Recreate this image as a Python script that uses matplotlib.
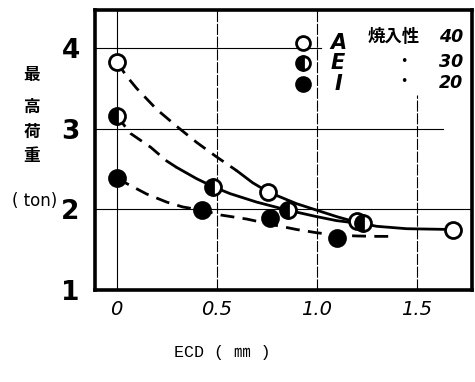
import matplotlib
matplotlib.use("Agg")
import matplotlib.pyplot as plt
from matplotlib.transforms import Affine2D

plt.rcParams['font.family'] = ['DejaVu Sans', 'Noto Sans CJK JP']

# ---- data ----
A_x = [0.0, 0.758, 1.20, 1.683]
A_y = [3.83, 2.215, 1.85, 1.75]
E_x = [0.0, 0.483, 0.855, 1.233]
E_y = [3.16, 2.28, 1.99, 1.83]
I_x = [0.0, 0.425, 0.767, 1.10]
I_y = [2.39, 1.99, 1.895, 1.65]

# guide curves
A_dash_x = [0.0, 0.05, 0.10, 0.20, 0.30, 0.40, 0.50, 0.60]
A_dash_y = [3.83, 3.65, 3.50, 3.24, 3.03, 2.83, 2.65, 2.48]
A_solid_x = [0.60, 0.68, 0.758, 0.90, 1.00, 1.10, 1.20, 1.30, 1.45, 1.683]
A_solid_y = [2.48, 2.33, 2.215, 2.07, 1.99, 1.91, 1.84, 1.79, 1.76, 1.75]
E_dash_x = [0.0, 0.07, 0.17, 0.25, 0.30]
E_dash_y = [3.16, 2.94, 2.77, 2.60, 2.52]
E_solid_x = [0.30, 0.40, 0.483, 0.567, 0.70, 0.855, 1.00, 1.10, 1.233]
E_solid_y = [2.52, 2.38, 2.28, 2.195, 2.09, 1.99, 1.91, 1.86, 1.82]
I_dash_x = [0.0, 0.05, 0.15, 0.25, 0.33, 0.425, 0.52, 0.65, 0.80, 0.90, 1.00, 1.10, 1.20, 1.30, 1.38]
I_dash_y = [2.39, 2.32, 2.19, 2.09, 2.03, 1.99, 1.93, 1.88, 1.80, 1.75, 1.71, 1.68, 1.67, 1.665, 1.665]

x_ticks = [0, 0.5, 1.0, 1.5]
x_tick_labels = ['0', '0.5', '1.0', '1.5']
y_ticks = [1, 2, 3, 4]
y_tick_labels = ['1', '2', '3', '4']

legend_letters = ['A', 'E', 'I']
legend_values = ['40', '30', '20']

W, H = 475, 382
fig = plt.figure(figsize=(W / 100, H / 100), dpi=100)
ax = fig.add_axes([95 / W, 1 - 290 / H, (472 - 95) / W, (290 - 10) / H])
ax.set_xlim(-0.1085, 1.777)
ax.set_ylim(1.0, 4.472)

for s in ax.spines.values():
    s.set_linewidth(2.6)
    s.set_color('black')

ax.set_xticks(x_ticks)
ax.set_xticklabels(x_tick_labels, fontstyle='italic', fontsize=14)
ax.set_yticks(y_ticks)
ax.set_yticklabels(y_tick_labels, fontsize=19, fontweight='bold')
ax.tick_params(axis='x', length=0, pad=7)
ax.tick_params(axis='y', length=0, pad=11)

# grid lines
gkw = dict(color='black', lw=0.8, zorder=1)
ax.axhline(2, **gkw)
ax.axhline(3, xmax=(1.63 + 0.1085) / 1.8855, **gkw)
ax.axhline(4, xmax=(1.02 + 0.1085) / 1.8855, **gkw)
ax.axvline(0, **gkw)
ax.axvline(0.5, ls=(0, (10, 1.5)), **gkw)
ax.axvline(1.0, ls=(0, (10, 1.5)), **gkw)
ax.axvline(1.5, ymax=(3.42 - 1) / 3.472, ls=(0, (10, 1.5)), **gkw)

# curves
lw = 2.0
dash = (0, (5, 3))
ax.plot(A_dash_x, A_dash_y, color='black', lw=lw, ls=dash, zorder=2)
ax.plot(A_solid_x, A_solid_y, color='black', lw=lw, zorder=2, solid_capstyle='round')
ax.plot(E_dash_x, E_dash_y, color='black', lw=lw, ls=dash, zorder=2)
ax.plot(E_solid_x, E_solid_y, color='black', lw=lw, zorder=2, solid_capstyle='round')
ax.plot(I_dash_x, I_dash_y, color='black', lw=lw, ls=dash, zorder=2)

# markers
ms = 11.5
mew = 2.0
ax.plot(A_x, A_y, 'o', ms=ms, mfc='white', mec='black', mew=mew, zorder=3)
ax.plot(E_x, E_y, 'o', ms=ms, mfc='black', mec='black', mew=mew,
        fillstyle='left', markerfacecoloralt='white', zorder=3)
ax.plot(I_x, I_y, 'o', ms=ms, mfc='black', mec='black', mew=mew, zorder=3)

# legend (manual, in pixel coords)
px = Affine2D().scale(1 / W, 1 / H) + Affine2D().scale(1, -1).translate(0, 1) + fig.transFigure
leg_y = [43, 63, 84]
lms = 10
styles = [dict(mfc='white'), dict(mfc='black', fillstyle='left', markerfacecoloralt='white'), dict(mfc='black')]
for yy, st in zip(leg_y, styles):
    fig.add_artist(plt.Line2D([303], [yy], marker='o', ms=lms, mec='black', mew=2.0,
                              transform=px, ls='none', **st))
for yy, lt in zip(leg_y, legend_letters):
    fig.text(338, yy, lt, transform=px, fontsize=15, fontweight='bold', fontstyle='italic',
             ha='center', va='center')
fig.text(394, 37, '焼入性', transform=px, fontsize=12.5, fontweight='bold',
         family=['Noto Sans CJK JP'], ha='center', va='center')
for yy, v in zip([37, 62, 83], legend_values):
    fig.text(463, yy, v, transform=px, fontsize=12.5, fontweight='bold', fontstyle='italic',
             ha='right', va='center')
for yy in [61, 82]:
    fig.text(404, yy, '•', transform=px, fontsize=9, ha='center', va='center')

# y label
for yy, ch in zip([75, 107, 132, 156], '最高荷重'):
    fig.text(32, yy, ch, transform=px, fontsize=12, fontweight='bold',
             family=['Noto Sans CJK JP'], ha='center', va='center')
fig.text(35, 201, '( ton)', transform=px, fontsize=12, ha='center', va='center')

# x label
fig.text(222, 353, 'ECD ( ㎜ )', transform=px, fontsize=12,
         family=['Liberation Mono', 'Noto Sans CJK JP'], ha='center', va='center')

fig.savefig('out.png', dpi=100)
